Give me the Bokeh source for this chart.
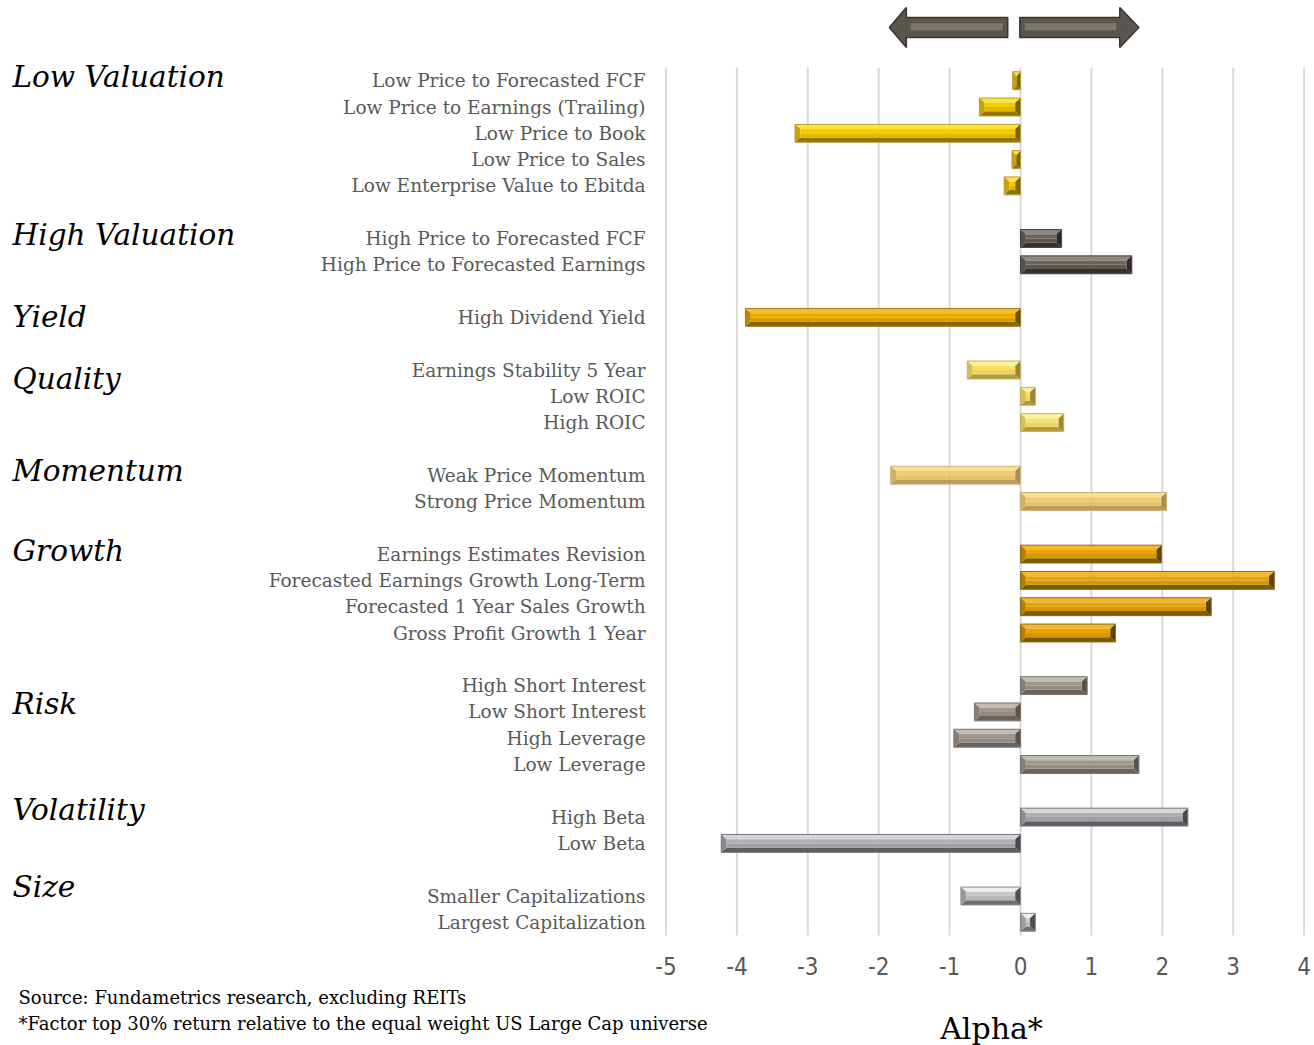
from bokeh.plotting import figure
from bokeh.models import Range1d, FixedTicker, ColumnDataSource
from bokeh.embed import file_html
from bokeh.resources import INLINE
from bokeh.core.properties import value

# ---------------- data ----------------
groups = ["Low Valuation", "High Valuation", "Yield", "Quality", "Momentum",
          "Growth", "Risk", "Volatility", "Size"]

factors = [
    "Low Price to Forecasted FCF", "Low Price to Earnings (Trailing)", "Low Price to Book",
    "Low Price to Sales", "Low Enterprise Value to Ebitda",
    "High Price to Forecasted FCF", "High Price to Forecasted Earnings",
    "High Dividend Yield",
    "Earnings Stability 5 Year", "Low ROIC", "High ROIC",
    "Weak Price Momentum", "Strong Price Momentum",
    "Earnings Estimates Revision", "Forecasted Earnings Growth Long-Term",
    "Forecasted 1 Year Sales Growth", "Gross Profit Growth 1 Year",
    "High Short Interest", "Low Short Interest", "High Leverage", "Low Leverage",
    "High Beta", "Low Beta",
    "Smaller Capitalizations", "Largest Capitalization",
]
factor_group = (["Low Valuation"] * 5 + ["High Valuation"] * 2 + ["Yield"] +
                ["Quality"] * 3 + ["Momentum"] * 2 + ["Growth"] * 4 + ["Risk"] * 4 +
                ["Volatility"] * 2 + ["Size"] * 2)
alpha = [-0.11, -0.58, -3.18, -0.12, -0.23,
         0.58, 1.57,
         -3.88,
         -0.75, 0.21, 0.61,
         -1.83, 2.06,
         1.99, 3.58, 2.69, 1.34,
         0.94, -0.65, -0.94, 1.67,
         2.36, -4.22,
         -0.84, 0.21]
x_ticks = [-5, -4, -3, -2, -1, 0, 1, 2, 3, 4]
x_tick_labels = ["-5", "-4", "-3", "-2", "-1", "0", "1", "2", "3", "4"]
axis_title = "Alpha*"
notes = ["Source:  Fundametrics research, excluding REITs",
         "*Factor top 30% return relative to the equal weight US Large Cap universe"]

# ---------------- styles ----------------
style = {
    "Low Valuation": dict(light="#FFE23A", face="#F6CB00", face2="#E4B800", dark="#8F7400", left="#C9A400", right="#7A6300", edge="#B59A3C", a=1.0),
    "High Valuation": dict(light="#8E877F", face="#6B645C", face2="#5E5750", dark="#36312C", left="#554F49", right="#2E2A26", edge="#4A4540", a=1.0),
    "Yield": dict(light="#F6BE2A", face="#EAAA00", face2="#DA9C00", dark="#8C6500", left="#B98700", right="#6E5000", edge="#A07A20", a=1.0),
    "Quality": dict(light="#FFF199", face="#F8E06C", face2="#EFD55C", dark="#B39B3E", left="#D6BE50", right="#9C8636", edge="#C8B060", a=1.0),
    "Momentum": dict(light="#F7D98A", face="#EDC560", face2="#E2B955", dark="#B08F4A", left="#C9A558", right="#9A7E45", edge="#D0B070", a=0.88),
    "Growth": dict(light="#F4B62A", face="#E8A400", face2="#D89600", dark="#7E5A00", left="#B07E00", right="#5E4400", edge="#8C6A20", a=1.0),
    "Risk": dict(light="#C4BCB4", face="#A0978F", face2="#938A82", dark="#6A625C", left="#877E77", right="#5A534D", edge="#7A726B", a=1.0),
    "Volatility": dict(light="#D4D6D8", face="#AEB0B3", face2="#9FA1A4", dark="#5C5E61", left="#8A8C8F", right="#48494C", edge="#707275", a=1.0),
    "Size": dict(light="#EEEEEE", face="#C8C8C8", face2="#B8B8B8", dark="#6E6E6E", left="#9A9A9A", right="#505050", edge="#8A8A8A", a=1.0),
}
group_label_offset = {"Low Valuation": -0.15, "High Valuation": -0.14, "Yield": -0.02,
                      "Quality": 0.34, "Momentum": -0.16, "Growth": -0.12,
                      "Risk": 0.71, "Volatility": -0.26, "Size": -0.33}

SERIF = "DejaVu Serif"
SANS_NARROW = "Liberation Sans Narrow, DejaVu Sans Condensed, Arial Narrow, sans-serif"

# ---------------- rows ----------------
rows = []
group_first_row = {}
r = 0
prev = None
for g in factor_group:
    if prev is not None and g != prev:
        r += 1
    if g not in group_first_row:
        group_first_row[g] = r
    rows.append(r)
    r += 1
    prev = g
last_row = rows[-1]

# ---------------- figure (frame spans whole canvas) ----------------
PX_X = 70.9      # pixels per alpha unit
PX_Y = 26.3      # pixels per row
ZERO_X = 1020.0  # pixel column of alpha = 0
ROW0_Y = 80.2    # pixel row of first factor
W, Hh = 1314, 1045
x_start = -ZERO_X / PX_X
x_end = (W - ZERO_X) / PX_X
y_top = -ROW0_Y / PX_Y
y_bottom = y_top + Hh / PX_Y

p = figure(width=W, height=Hh,
           x_range=Range1d(x_start, x_end), y_range=Range1d(y_bottom, y_top),
           output_backend="svg", toolbar_location=None,
           min_border=0, min_border_left=0, min_border_right=0,
           min_border_top=0, min_border_bottom=0)
p.outline_line_color = None
p.xgrid.visible = False
p.ygrid.visible = False
p.background_fill_color = "white"
p.border_fill_color = "white"

area_left = x_ticks[0] - 0.02
area_top = -0.5
area_bottom = last_row + 0.5

# grid lines
p.segment(x0=x_ticks, y0=[area_top] * len(x_ticks), x1=x_ticks, y1=[area_bottom] * len(x_ticks),
          line_color="#D9D9D9", line_width=2)

# bevelled bars
H = 0.34
DY = 0.18
DXMAX = 0.075
xs, ys, cols, als = [], [], [], []
ox0, ox1, oy0, oy1, ocol = [], [], [], [], []
for v, row, g in zip(alpha, rows, factor_group):
    s = style[g]
    x0, x1 = min(0, v), max(0, v)
    dx = min(DXMAX, abs(v) / 2)
    t, b = row - H, row + H
    ti, bi = t + DY, b - DY
    mid = row
    parts = [
        ([x0, x1, x1 - dx, x0 + dx], [t, t, ti, ti], s["light"]),
        ([x0, x1, x1 - dx, x0 + dx], [b, b, bi, bi], s["dark"]),
        ([x0, x0 + dx, x0 + dx, x0], [t, ti, bi, b], s["left"]),
        ([x1, x1 - dx, x1 - dx, x1], [t, ti, bi, b], s["right"]),
        ([x0 + dx, x1 - dx, x1 - dx, x0 + dx], [ti, ti, mid, mid], s["face"]),
        ([x0 + dx, x1 - dx, x1 - dx, x0 + dx], [mid, mid, bi, bi], s["face2"]),
    ]
    for px, py, c in parts:
        xs.append(px); ys.append(py); cols.append(c); als.append(s["a"])
    ox0.append(x0); ox1.append(x1); oy0.append(t); oy1.append(b); ocol.append(s["edge"])

p.patches(xs="xs", ys="ys", fill_color="c", fill_alpha="a", line_color=None,
          source=ColumnDataSource(dict(xs=xs, ys=ys, c=cols, a=als)))
p.quad(left="l", right="r", top="t", bottom="b", fill_color=None, line_color="c", line_width=1,
       source=ColumnDataSource(dict(l=ox0, r=ox1, t=oy0, b=oy1, c=ocol)))

# direction arrows (decoration above the bars)
ARROW_Y = -2.02
SH, HH = 0.38, 0.76
left_arrow = ([-0.18, -1.61, -1.61, -1.85, -1.61, -1.61, -0.18],
              [ARROW_Y - SH, ARROW_Y - SH, ARROW_Y - HH, ARROW_Y, ARROW_Y + HH, ARROW_Y + SH, ARROW_Y + SH])
right_arrow = ([-0.01, 1.40, 1.40, 1.67, 1.40, 1.40, -0.01],
               [ARROW_Y - SH, ARROW_Y - SH, ARROW_Y - HH, ARROW_Y, ARROW_Y + HH, ARROW_Y + SH, ARROW_Y + SH])
p.patches(xs=[left_arrow[0], right_arrow[0]], ys=[left_arrow[1], right_arrow[1]],
          fill_color="#5B554F", line_color="#3A3632", line_width=1.5)
p.patches(xs=[[-0.25, -1.55, -1.55, -0.25], [0.06, 1.35, 1.35, 0.06]],
          ys=[[ARROW_Y - 0.16, ARROW_Y - 0.16, ARROW_Y + 0.1, ARROW_Y + 0.1]] * 2,
          fill_color="#7C766F", line_color=None)

# axes placed at the edges of the bar area
xa = p.xaxis[0]
xa.fixed_location = area_bottom
xa.ticker = FixedTicker(ticks=x_ticks)
xa.major_label_overrides = {t: l for t, l in zip(x_ticks, x_tick_labels)}
xa.axis_line_color = None
xa.major_tick_line_color = None
xa.minor_tick_line_color = None
xa.major_label_text_font = SANS_NARROW
xa.major_label_text_font_size = "24px"
xa.major_label_text_color = "#595959"
xa.major_label_standoff = 16

ya = p.yaxis[0]
ya.fixed_location = area_left
ya.ticker = FixedTicker(ticks=rows)
ya.major_label_overrides = {rw: f for rw, f in zip(rows, factors)}
ya.axis_line_color = None
ya.major_tick_line_color = None
ya.minor_tick_line_color = None
ya.major_label_text_font = SERIF
ya.major_label_text_font_size = "18.5px"
ya.major_label_text_color = "#595959"
ya.major_label_standoff = 13

# axis title
p.text(x=[-29 / PX_X], y=[area_bottom + 3.53], text=[axis_title],
       text_font=value(SERIF), text_font_size="30px", text_color="black",
       text_align="center", text_baseline="middle")

# group labels
GX = x_start + 12 / PX_X
p.text(x=[GX] * len(groups), y=[group_first_row[g] + group_label_offset[g] for g in groups],
       text=groups, text_font=value(SERIF), text_font_style="italic", text_font_size="29.5px",
       text_color="black", text_align="left", text_baseline="middle")

# footnotes
NX = x_start + 18 / PX_X
p.text(x=[NX] * len(notes), y=[area_bottom + 2.36 + i * 0.99 for i in range(len(notes))],
       text=notes, text_font=value(SERIF), text_font_size="18px", text_color="black",
       text_align="left", text_baseline="middle")

open("out.html", "w").write(file_html(p, INLINE))
